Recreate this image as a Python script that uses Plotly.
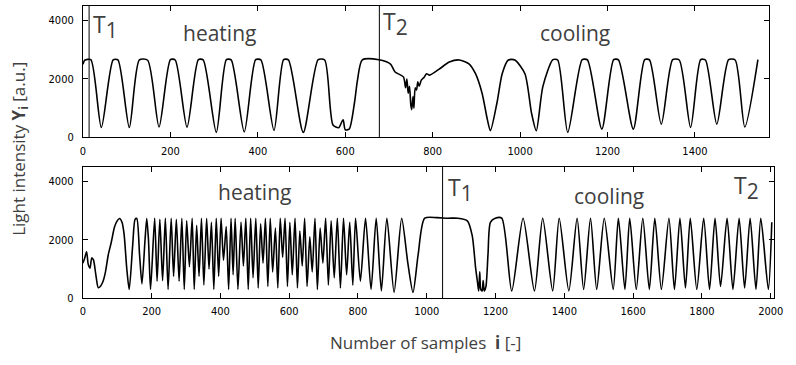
import plotly.graph_objects as go

# ---------------- data ----------------
top_x = [0, 4, 18, 42, 69, 80, 106, 129, 148, 174, 200, 211, 238, 264, 275, 305,
         328, 339, 369, 395, 407, 437, 459, 470, 504, 538, 553, 572, 585, 595, 600,
         609, 621, 628, 639, 677, 703, 714, 733, 738, 741, 744, 747, 750, 752, 755,
         757, 760, 763, 766, 769, 774, 780, 786, 793, 816, 838, 861, 883, 898, 913,
         925, 932, 947, 959, 973, 988, 1011, 1026, 1037, 1052, 1075, 1086, 1109,
         1142, 1154, 1187, 1214, 1225, 1259, 1285, 1296, 1323, 1349, 1364, 1390,
         1413, 1424, 1450, 1477, 1492, 1514, 1544]
top_y = [2500, 2640, 2660, 336, 2650, 2650, 336, 2650, 2640, 353, 2660, 2650, 350,
         2660, 2650, 168, 2660, 2650, 185, 2660, 2650, 235, 2660, 2650, 168, 2660,
         2650, 420, 330, 600, 260, 280, 1176, 1960, 2650, 2660, 2520, 2240, 2070,
         1700, 2000, 1510, 1750, 1100, 950, 1400, 1000, 1700, 1620, 1900, 1750,
         1960, 2050, 2180, 2130, 2350, 2580, 2650, 2520, 2180, 1510, 615, 225,
         1176, 2180, 2650, 2650, 2180, 840, 225, 1737, 2660, 2650, 168, 2660, 2650,
         280, 2660, 2650, 280, 2660, 2650, 448, 2660, 2650, 336, 2660, 2650, 448,
         2660, 2650, 353, 2660]

bottom_start_x = [0, 5, 11, 16, 21, 26, 31, 38, 45, 52, 59, 66, 74, 83, 92, 100,
                  107, 114, 120, 128, 135, 145, 152, 157, 165, 172, 181, 186, 191, 197]
bottom_start_y = [1200, 1350, 1590, 1150, 1030, 1380, 1310, 800, 360, 420, 580, 900,
                  1480, 1925, 2430, 2650, 2730, 2600, 2200, 1000, 300, 1800, 2700,
                  2730, 1500, 490, 2000, 2730, 2000, 300]

dense_peak_x = [209, 224, 240, 257, 272, 288, 302, 318, 331, 345, 360, 374, 388, 402,
                417, 431, 443, 460, 474, 488, 503, 517, 531, 545, 560, 574, 588, 602,
                617, 631, 645, 660, 675, 690, 706, 722, 740, 758, 776, 793]
dense_peak_y = [2740, 2700, 2740, 2740, 2700, 2740, 2650, 2740, 2500, 2740, 2740, 2600,
                2740, 2740, 2450, 2740, 2740, 2600, 2740, 2740, 2740, 2550, 2740, 2740,
                2400, 2740, 2740, 2600, 2740, 2300, 2740, 2100, 2740, 2400, 2740, 2650,
                2740, 2740, 2600, 2740]
dense_trough_x = [216, 232, 248, 264, 280, 295, 310, 324, 338, 352, 367, 381, 395, 409,
                  424, 437, 451, 467, 481, 495, 510, 524, 538, 552, 567, 581, 595, 609,
                  624, 638, 652, 667, 682, 698, 714, 731, 749, 767, 785, 807]
dense_trough_y = [580, 600, 300, 750, 580, 300, 1075, 300, 750, 450, 1000, 300, 750,
                  1300, 300, 800, 300, 1100, 300, 700, 350, 1200, 400, 900, 350, 1400,
                  400, 800, 350, 1100, 400, 900, 300, 1200, 450, 700, 350, 800, 450, 580]

bottom_end_x = [822, 838, 853, 868, 884, 905, 927, 945, 960, 975, 994, 1030, 1060, 1090,
                1118, 1132, 1142, 1148, 1151, 1154, 1157, 1161, 1164, 1167, 1172, 1178,
                1185, 1199, 1218, 1247, 1280, 1313, 1337, 1366, 1385, 1413, 1437, 1456,
                1476, 1494, 1516, 1542, 1557, 1576, 1590, 1609, 1628, 1647, 1663, 1682,
                1704, 1720, 1736, 1752, 1766, 1785, 1805, 1822, 1838, 1854, 1873, 1890,
                1908, 1924, 1940, 1957, 1971, 1993, 2003]
bottom_end_y = [2740, 300, 2740, 250, 2740, 200, 2740, 1200, 200, 1500, 2740, 2760, 2740,
                2740, 2650, 2150, 1040, 500, 245, 900, 300, 250, 600, 250, 400, 1500,
                2600, 2740, 2740, 245, 2740, 245, 2740, 250, 2740, 250, 2740, 300, 2740,
                300, 2740, 300, 2740, 300, 2740, 300, 2740, 300, 2740, 300, 2740, 300,
                2740, 350, 2740, 300, 2740, 300, 2740, 400, 2740, 300, 2740, 350, 2740,
                300, 2740, 300, 2600]

top_markers = [14, 678]
bottom_markers = [1046]

x_ticks_top = [0, 200, 400, 600, 800, 1000, 1200, 1400]
x_ticks_bottom = [0, 200, 400, 600, 800, 1000, 1200, 1400, 1600, 1800, 2000]
y_ticks = [0, 2000, 4000]

# assemble bottom series
dense_x, dense_y = [], []
for px_, py_, tx_, ty_ in zip(dense_peak_x, dense_peak_y, dense_trough_x, dense_trough_y):
    dense_x += [px_, tx_]
    dense_y += [py_, ty_]
bottom_x = bottom_start_x + dense_x + bottom_end_x
bottom_y = bottom_start_y + dense_y + bottom_end_y

W, H = 796, 365
LINE = dict(color="black", width=1.6, shape="spline", smoothing=0.7)

fig = go.Figure()
fig.add_trace(go.Scatter(x=top_x, y=top_y, mode="lines", line=LINE,
                         xaxis="x", yaxis="y", showlegend=False, hoverinfo="skip"))
fig.add_trace(go.Scatter(x=bottom_x, y=bottom_y, mode="lines", line=LINE,
                         xaxis="x2", yaxis="y2", showlegend=False, hoverinfo="skip"))

tickfont = dict(family="Liberation Sans Narrow, Arial Narrow, DejaVu Sans Condensed, sans-serif",
                size=11, color="black")
axcommon = dict(showgrid=False, zeroline=False, showline=True, linecolor="black",
                linewidth=1, mirror="ticks", ticks="inside", ticklen=5, tickwidth=1,
                tickcolor="black", tickfont=tickfont)

fig.update_layout(
    width=W, height=H,
    margin=dict(l=0, r=0, t=0, b=0),
    paper_bgcolor="white", plot_bgcolor="white",
    xaxis=dict(domain=[81.2 / W, 778 / W], range=[0, 1570], tickvals=x_ticks_top,
               anchor="y", ticklabelstandoff=3, **axcommon),
    yaxis=dict(domain=[1 - 140 / H, 1 - 6.1 / H], range=[0, 4500], tickvals=y_ticks,
               anchor="x", ticklabelstandoff=6, **axcommon),
    xaxis2=dict(domain=[81 / W, 783 / W], range=[0, 2010], tickvals=x_ticks_bottom,
                anchor="y2", ticklabelstandoff=3, **axcommon),
    yaxis2=dict(domain=[1 - 304 / H, 1 - 170.1 / H], range=[0, 4500], tickvals=y_ticks,
                anchor="x2", ticklabelstandoff=6, **axcommon),
)

shapes = []
for m in top_markers:
    shapes.append(dict(type="line", xref="x", yref="y", x0=m, x1=m, y0=0, y1=4500,
                       line=dict(color="black", width=1)))
for m in bottom_markers:
    shapes.append(dict(type="line", xref="x2", yref="y2", x0=m, x1=m, y0=0, y1=4500,
                       line=dict(color="black", width=1)))
fig.update_layout(shapes=shapes)

gray = "#404040"
FAM = "Open Sans, Noto Sans, sans-serif"
labfont = dict(family=FAM, size=21, color=gray)
tfont = dict(family=FAM, size=23, color=gray)


def ann(text, px, py, **kw):
    d = dict(text=text, x=px / W, y=1 - py / H, xref="paper", yref="paper",
             xanchor="center", yanchor="middle", showarrow=False, font=labfont)
    d.update(kw)
    return d


def tlabel(n):
    return "T<sub><span style='font-size:21px'>%s</span></sub>" % n


annotations = [
    ann("heating", 220, 34),
    ann("cooling", 581, 34),
    ann(tlabel(1), 104, 27, font=tfont),
    ann(tlabel(2), 398, 23, font=tfont),
    ann("heating", 255, 196),
    ann("cooling", 615, 200),
    ann(tlabel(1), 464, 193, font=tfont),
    ann(tlabel(2), 755, 191, font=tfont),
    ann("Light intensity <b>Y<sub>i</sub></b> [a.u.]", 16, 152, textangle=-90,
        font=dict(family=FAM, size=17, color=gray)),
    ann("Number of samples  <b>i</b> [-]", 429, 349,
        font=dict(family=FAM, size=17, color=gray)),
]
fig.update_layout(annotations=annotations)

fig.write_html("out.html")
